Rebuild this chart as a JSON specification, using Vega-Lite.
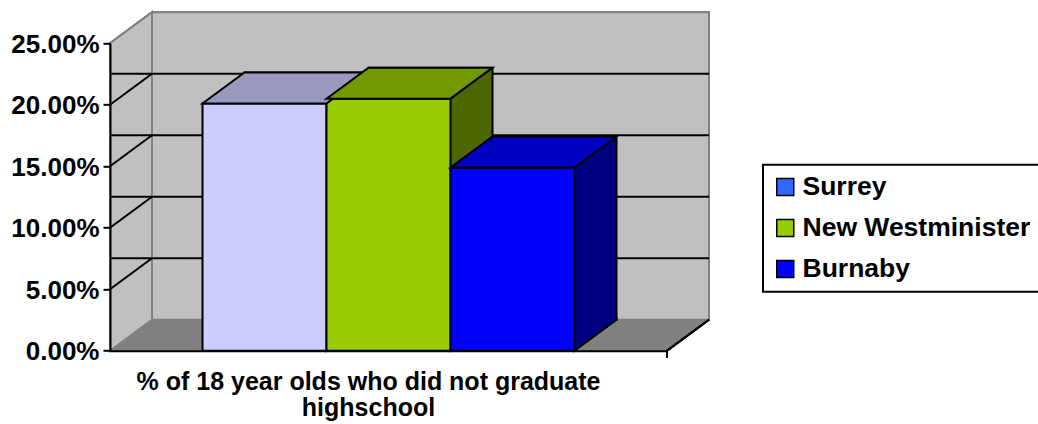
{
  "$schema": "https://vega.github.io/schema/vega-lite/v6.json",
  "width": 557,
  "height": 307.4,
  "autosize": {"type": "none"},
  "padding": {"left": 110, "top": 43.3, "right": 371, "bottom": 73.3},
  "background": "white",
  "config": {
    "view": {"stroke": null},
    "font": "Liberation Sans"
  },
  "datasets": {
    "rates": [
      {"city": "Surrey", "rate": 0.201},
      {"city": "New Westminister", "rate": 0.205},
      {"city": "Burnaby", "rate": 0.149}
    ],
    "ticks": [
      {"tick": 0.05},
      {"tick": 0.1},
      {"tick": 0.15},
      {"tick": 0.2}
    ]
  },
  "data": {"name": "rates"},
  "layer": [
    {
      "description": "back wall, pushed back by the depth of the 3D box",
      "mark": {"type": "bar", "width": {"band": 4.492}, "fill": "#C0C0C0", "stroke": "#808080", "strokeWidth": 2, "xOffset": 42, "yOffset": -31, "y2Offset": -31},
      "encoding": {
        "x": {"datum": "New Westminister", "type": "nominal", "scale": {"domain": ["Surrey", "New Westminister", "Burnaby"], "paddingInner": 0, "paddingOuter": 0.746}},
        "y": {"datum": 0, "type": "quantitative", "scale": {"domain": [0, 0.25], "nice": false, "zero": true}},
        "y2": {"datum": 0.25}
      }
    },
    {
      "description": "floor",
      "mark": {"type": "point", "shape": "M -278.5,0 L 278.5,0 L 320.5,-31 L -236.5,-31 Z", "size": 4, "filled": true, "fill": "#808080", "stroke": "#808080", "strokeWidth": 1, "opacity": 1},
      "encoding": {
        "x": {"datum": "New Westminister", "type": "nominal"},
        "y": {"datum": 0, "type": "quantitative"}
      }
    },
    {
      "description": "left side wall",
      "mark": {"type": "point", "shape": "M -278.5,0 L -278.5,-307.4 L -236.5,-338.4 L -236.5,-31 Z", "size": 4, "filled": true, "fill": "#C0C0C0", "stroke": "#808080", "strokeWidth": 2, "opacity": 1},
      "encoding": {
        "x": {"datum": "New Westminister", "type": "nominal"},
        "y": {"datum": 0, "type": "quantitative"}
      }
    },
    {
      "description": "gridlines on the back wall",
      "data": {"name": "ticks"},
      "mark": {"type": "rule", "color": "black", "strokeWidth": 2, "xOffset": 42, "x2Offset": 42, "yOffset": -31, "y2Offset": -31},
      "encoding": {
        "y": {"field": "tick", "type": "quantitative"}
      }
    },
    {
      "description": "gridlines running up the side wall",
      "data": {"name": "ticks"},
      "mark": {"type": "point", "shape": "M -278.5,0 L -236.5,-31", "size": 4, "filled": false, "stroke": "black", "strokeWidth": 2, "opacity": 1},
      "encoding": {
        "x": {"datum": "New Westminister", "type": "nominal"},
        "y": {"field": "tick", "type": "quantitative"}
      }
    },
    {
      "description": "right edge of the floor and its tick",
      "mark": {"type": "point", "shape": "M 278.5,7 L 278.5,0 L 320.5,-31", "size": 4, "filled": false, "stroke": "black", "strokeWidth": 2, "opacity": 1},
      "encoding": {
        "x": {"datum": "New Westminister", "type": "nominal"},
        "y": {"datum": 0, "type": "quantitative"}
      }
    },
    {
      "description": "bar sides: the bar repeated at the back of the box",
      "mark": {"type": "bar", "stroke": "black", "strokeWidth": 2, "xOffset": 42, "yOffset": -31, "y2Offset": -31},
      "encoding": {
        "x": {"field": "city", "type": "nominal"},
        "y": {"field": "rate", "type": "quantitative"},
        "y2": {"datum": 0},
        "fill": {
          "condition": [
            {"test": "datum.city === 'Surrey'", "value": "#666680"},
            {"test": "datum.city === 'New Westminister'", "value": "#4C6600"}
          ],
          "value": "#000080"
        }
      }
    },
    {
      "description": "lower corner of each bar side, down to the floor",
      "mark": {"type": "point", "shape": "M 104,-34 L 104,-31 L 62,0 L 62,-34", "size": 4, "filled": true, "stroke": "black", "strokeWidth": 2, "opacity": 1},
      "encoding": {
        "x": {"field": "city", "type": "nominal"},
        "y": {"datum": 0, "type": "quantitative"},
        "fill": {
          "condition": [
            {"test": "datum.city === 'Surrey'", "value": "#666680"},
            {"test": "datum.city === 'New Westminister'", "value": "#4C6600"}
          ],
          "value": "#000080"
        }
      }
    },
    {
      "description": "bar fronts",
      "mark": {"type": "bar", "stroke": "black", "strokeWidth": 2},
      "encoding": {
        "x": {
          "field": "city", "type": "nominal",
          "axis": {
            "zindex": 1, "labels": false, "ticks": false, "grid": false,
            "domainColor": "black", "domainWidth": 2,
            "title": ["% of 18 year olds who did not graduate", "highschool"],
            "titleX": 258, "titleY": 39, "titleAlign": "center", "titleBaseline": "alphabetic",
            "titleLineHeight": 25.5, "titleFont": "Liberation Sans", "titleFontSize": 25, "titleFontWeight": "bold", "titleColor": "black"
          }
        },
        "y": {
          "field": "rate", "type": "quantitative",
          "axis": {
            "title": null, "zindex": 1, "grid": false,
            "values": [0, 0.05, 0.1, 0.15, 0.2, 0.25], "format": ".2%",
            "domainColor": "black", "domainWidth": 2,
            "tickColor": "black", "tickWidth": 2, "tickSize": 7,
            "labelPadding": 4, "labelOffset": 1,
            "labelFont": "Liberation Sans", "labelFontSize": 26, "labelFontWeight": "bold", "labelColor": "black"
          }
        },
        "y2": {"datum": 0},
        "fill": {
          "field": "city", "type": "nominal",
          "scale": {"domain": ["Surrey", "New Westminister", "Burnaby"], "range": ["#3366FF", "#99CC00", "#0000FF"]},
          "condition": {"test": "datum.city === 'Surrey'", "value": "#CCCCFF"},
          "legend": {
            "title": null, "orient": "none", "legendX": 653, "legendY": 121.5, "direction": "vertical",
            "symbolType": "square", "symbolSize": 289, "symbolStrokeColor": "black", "symbolStrokeWidth": 1.5, "symbolOpacity": 1,
            "labelFont": "Liberation Sans", "labelFontSize": 26.5, "labelFontWeight": "bold", "labelColor": "black",
            "labelOffset": 4, "labelLimit": 0, "rowPadding": 14, "padding": 9,
            "strokeColor": "black", "fillColor": "white",
            "encode": {"legend": {"update": {"strokeWidth": {"value": 2}}}}
          }
        }
      }
    },
    {
      "description": "bar tops",
      "mark": {"type": "point", "shape": "M -62,0 L 62,0 L 104,-31 L -20,-31 Z", "size": 4, "filled": true, "stroke": "black", "strokeWidth": 2, "opacity": 1},
      "encoding": {
        "x": {"field": "city", "type": "nominal"},
        "y": {"field": "rate", "type": "quantitative"},
        "fill": {
          "condition": [
            {"test": "datum.city === 'Surrey'", "value": "#9999BF"},
            {"test": "datum.city === 'New Westminister'", "value": "#739900"}
          ],
          "value": "#0000C0"
        }
      }
    }
  ]
}
